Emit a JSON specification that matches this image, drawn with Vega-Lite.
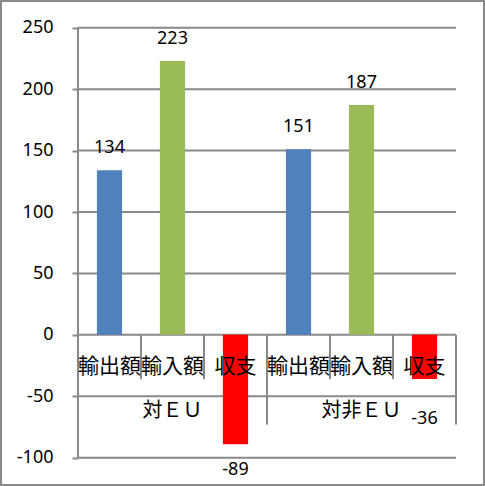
{
  "$schema": "https://vega.github.io/schema/vega-lite/v6.json",
  "width": 485,
  "height": 486,
  "autosize": "none",
  "padding": 0,
  "background": "white",
  "config": {"view": {"stroke": "#898989", "strokeWidth": 4}, "font": "Noto Sans"},
  "datasets": {
    "bars": [
      {"k": "対ＥＵ|輸出額", "group": "対ＥＵ", "item": "輸出額", "v": 134},
      {"k": "対ＥＵ|輸入額", "group": "対ＥＵ", "item": "輸入額", "v": 223},
      {"k": "対ＥＵ|収支", "group": "対ＥＵ", "item": "収支", "v": -89},
      {"k": "対非ＥＵ|輸出額", "group": "対非ＥＵ", "item": "輸出額", "v": 151},
      {"k": "対非ＥＵ|輸入額", "group": "対非ＥＵ", "item": "輸入額", "v": 187},
      {"k": "対非ＥＵ|収支", "group": "対非ＥＵ", "item": "収支", "v": -36}
    ],
    "grid": [{"y": -100}, {"y": -50}, {"y": 0}, {"y": 50}, {"y": 100}, {"y": 150}, {"y": 200}, {"y": 250}]
  },
  "layer": [
    {
      "data": {"name": "grid"},
      "mark": {"type": "rule", "color": "#898989", "strokeWidth": 2},
      "encoding": {
        "y": {
          "field": "y", "type": "quantitative",
          "scale": {"domain": [-123, 272.55], "nice": false, "zero": false},
          "axis": {
            "values": [-100, -50, 0, 50, 100, 150, 200, 250],
            "labelExpr": "'' + datum.value",
            "offset": -78, "domain": false, "grid": false,
            "ticks": true, "tickSize": 6, "tickColor": "#898989", "tickWidth": 2,
            "labelPadding": 19, "labelFont": "Noto Sans", "labelFontSize": 18,
            "labelColor": "#000000", "title": null
          }
        },
        "x": {"datum": "対ＥＵ|輸出額", "type": "nominal", "bandPosition": 0, "axis": null},
        "x2": {"datum": "対非ＥＵ|収支", "bandPosition": 1}
      }
    },
    {
      "data": {"name": "bars"},
      "mark": {"type": "bar", "width": {"band": 0.4}},
      "encoding": {
        "x": {
          "field": "k", "type": "nominal", "axis": null,
          "scale": {
            "domain": ["対ＥＵ|輸出額", "対ＥＵ|輸入額", "対ＥＵ|収支", "対非ＥＵ|輸出額", "対非ＥＵ|輸入額", "対非ＥＵ|収支"],
            "paddingInner": 0, "paddingOuter": 0.849, "align": 0.729
          }
        },
        "y": {"field": "v", "type": "quantitative", "title": null},
        "color": {
          "field": "item", "type": "nominal", "legend": null,
          "scale": {"domain": ["輸出額", "輸入額", "収支"], "range": ["#4F81BD", "#9BBB59", "#FF0000"]}
        }
      }
    },
    {
      "data": {"name": "bars"},
      "transform": [{"filter": "datum.item != '輸出額'"}],
      "mark": {"type": "rule", "color": "#898989", "strokeWidth": 2},
      "encoding": {
        "x": {"field": "k", "type": "nominal", "bandPosition": 0, "axis": null},
        "y": {"datum": 0, "type": "quantitative"},
        "y2": {"datum": -36}
      }
    },
    {
      "data": {"name": "bars"},
      "transform": [{"filter": "datum.group == '対非ＥＵ' && datum.item == '輸出額'"}],
      "mark": {"type": "rule", "color": "#898989", "strokeWidth": 2},
      "encoding": {
        "x": {"field": "k", "type": "nominal", "bandPosition": 0, "axis": null},
        "y": {"datum": 0, "type": "quantitative"},
        "y2": {"datum": -73}
      }
    },
    {
      "data": {"name": "bars"},
      "transform": [{"filter": "datum.group == '対非ＥＵ' && datum.item == '収支'"}],
      "mark": {"type": "rule", "color": "#898989", "strokeWidth": 2},
      "encoding": {
        "x": {"field": "k", "type": "nominal", "bandPosition": 1, "axis": null},
        "y": {"datum": 0, "type": "quantitative"},
        "y2": {"datum": -73}
      }
    },
    {
      "data": {"name": "bars"},
      "transform": [{"filter": "datum.group == '対ＥＵ' && datum.item == '輸出額'"}],
      "mark": {"type": "rule", "color": "#898989", "strokeWidth": 2},
      "encoding": {
        "x": {"field": "k", "type": "nominal", "bandPosition": 0, "axis": null},
        "y": {"datum": -100, "type": "quantitative"},
        "y2": {"datum": 250}
      }
    },
    {
      "data": {"name": "bars"},
      "mark": {"type": "text", "font": "Noto Sans CJK JP", "fontSize": 21, "baseline": "middle", "color": "#000000"},
      "encoding": {
        "x": {"field": "k", "type": "nominal", "axis": null},
        "y": {"datum": -26, "type": "quantitative"},
        "text": {"field": "item"}
      }
    },
    {
      "data": {"name": "bars"},
      "transform": [{"filter": "datum.item == '輸入額'"}],
      "mark": {"type": "text", "font": "Noto Sans CJK JP", "fontSize": 20, "baseline": "middle", "color": "#000000"},
      "encoding": {
        "x": {"field": "k", "type": "nominal", "axis": null},
        "y": {"datum": -62, "type": "quantitative"},
        "text": {"field": "group"}
      }
    },
    {
      "data": {"name": "bars"},
      "mark": {"type": "text", "font": "Noto Sans", "fontSize": 18, "baseline": "middle", "color": "#000000",
               "dy": {"expr": "datum.v > 0 ? -22 : (datum.v < -50 ? 26 : 40)"}},
      "encoding": {
        "x": {"field": "k", "type": "nominal", "axis": null},
        "y": {"field": "v", "type": "quantitative"},
        "text": {"field": "v", "type": "nominal"}
      }
    }
  ]
}
